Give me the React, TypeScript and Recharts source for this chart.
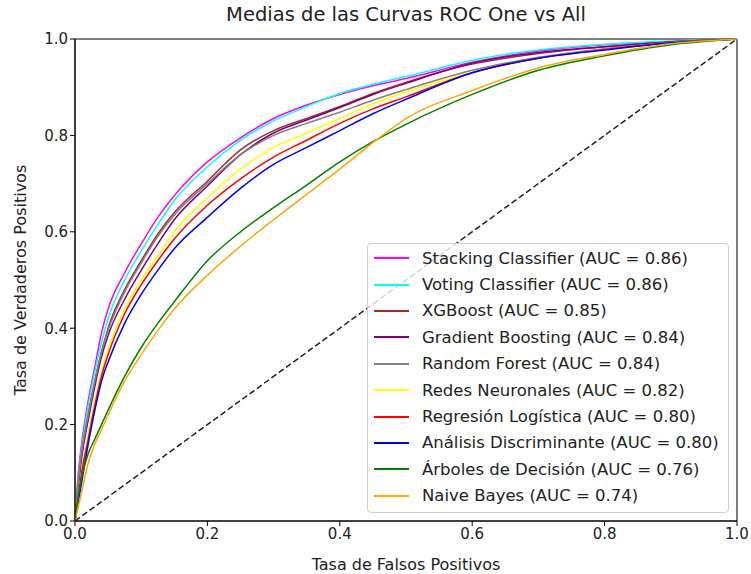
import React from 'react'
import { LineChart, Line, XAxis, YAxis, ReferenceLine, ReferenceArea } from 'recharts'

// false positive rate grid shared by every curve
const fpr = [0, 0.005, 0.01, 0.02, 0.03, 0.04, 0.05, 0.075, 0.1, 0.125, 0.15, 0.2, 0.25, 0.3, 0.35, 0.4, 0.45, 0.5, 0.6, 0.7, 0.8, 0.9, 1]

const stacking = [0, 0.1, 0.16, 0.25, 0.32, 0.39, 0.44, 0.515, 0.575, 0.63, 0.675, 0.745, 0.795, 0.835, 0.863, 0.885, 0.903, 0.918, 0.952, 0.975, 0.988, 0.995, 1]
const voting = [0, 0.09, 0.15, 0.24, 0.31, 0.37, 0.42, 0.5, 0.56, 0.615, 0.665, 0.735, 0.79, 0.83, 0.86, 0.887, 0.906, 0.922, 0.956, 0.977, 0.989, 0.996, 1]
const xgboost = [0, 0.08, 0.14, 0.22, 0.29, 0.35, 0.4, 0.48, 0.54, 0.595, 0.64, 0.705, 0.77, 0.81, 0.835, 0.86, 0.887, 0.91, 0.948, 0.97, 0.984, 0.994, 1]
const gradient = [0, 0.07, 0.13, 0.21, 0.28, 0.34, 0.385, 0.46, 0.52, 0.575, 0.625, 0.695, 0.76, 0.805, 0.832, 0.858, 0.885, 0.908, 0.95, 0.972, 0.984, 0.994, 1]
const forest = [0, 0.08, 0.14, 0.22, 0.29, 0.35, 0.395, 0.475, 0.535, 0.59, 0.635, 0.7, 0.76, 0.8, 0.825, 0.848, 0.873, 0.895, 0.935, 0.962, 0.98, 0.993, 1]
const neural = [0, 0.05, 0.1, 0.18, 0.25, 0.31, 0.355, 0.44, 0.5, 0.55, 0.6, 0.67, 0.73, 0.775, 0.805, 0.835, 0.865, 0.89, 0.93, 0.96, 0.978, 0.992, 1]
const logistic = [0, 0.05, 0.1, 0.17, 0.24, 0.3, 0.345, 0.43, 0.49, 0.54, 0.585, 0.655, 0.71, 0.755, 0.79, 0.825, 0.855, 0.88, 0.93, 0.96, 0.978, 0.992, 1]
const discriminant = [0, 0.04, 0.08, 0.16, 0.23, 0.29, 0.33, 0.41, 0.47, 0.52, 0.565, 0.63, 0.69, 0.74, 0.775, 0.81, 0.845, 0.875, 0.93, 0.96, 0.977, 0.992, 1]
const trees = [0, 0.05, 0.09, 0.14, 0.17, 0.2, 0.23, 0.3, 0.36, 0.41, 0.455, 0.54, 0.6, 0.65, 0.697, 0.745, 0.787, 0.823, 0.885, 0.935, 0.965, 0.988, 1]
const bayes = [0, 0.03, 0.06, 0.12, 0.16, 0.19, 0.22, 0.29, 0.345, 0.395, 0.44, 0.51, 0.57, 0.625, 0.678, 0.73, 0.785, 0.835, 0.893, 0.94, 0.968, 0.99, 1]

const models = [
  { key: 'stacking', name: 'Stacking Classifier (AUC = 0.86)', color: '#ff00ff', values: stacking },
  { key: 'voting', name: 'Voting Classifier (AUC = 0.86)', color: '#00ffff', values: voting },
  { key: 'xgboost', name: 'XGBoost (AUC = 0.85)', color: '#a52a2a', values: xgboost },
  { key: 'gradient', name: 'Gradient Boosting (AUC = 0.84)', color: '#800080', values: gradient },
  { key: 'forest', name: 'Random Forest (AUC = 0.84)', color: '#808080', values: forest },
  { key: 'neural', name: 'Redes Neuronales (AUC = 0.82)', color: '#ffff00', values: neural },
  { key: 'logistic', name: 'Regresión Logística (AUC = 0.80)', color: '#ff0000', values: logistic },
  { key: 'discriminant', name: 'Análisis Discriminante (AUC = 0.80)', color: '#0000ff', values: discriminant },
  { key: 'trees', name: 'Árboles de Decisión (AUC = 0.76)', color: '#008000', values: trees },
  { key: 'bayes', name: 'Naive Bayes (AUC = 0.74)', color: '#ffa500', values: bayes },
]

const ticks = [0, 0.2, 0.4, 0.6, 0.8, 1]

const data = fpr.map((x, i) => {
  const row: Record<string, number> = { fpr: x }
  models.forEach(m => { row[m.key] = m.values[i] })
  return row
})

const font = 'DejaVu Sans, sans-serif'

function LegendBox() {
  return (
    <div style={{
      position: 'absolute', left: 367, top: 243, width: 362, height: 270, boxSizing: 'border-box',
      background: 'rgba(255,255,255,0.8)', border: '1px solid #d0d0d0', borderRadius: 4,
      padding: '1px 0 0 6px', fontSize: 16.5, color: '#222',
    }}>
      {models.map(m => (
        <div key={m.key} style={{ display: 'flex', alignItems: 'center', height: 26.4, whiteSpace: 'nowrap' }}>
          <span style={{ display: 'inline-block', width: 35, height: 0, borderTop: `2px solid ${m.color}`, marginRight: 13 }} />
          <span>{m.name}</span>
        </div>
      ))}
    </div>
  )
}

export default function App() {
  return (
    <div style={{ position: 'absolute', left: 0, top: 0, width: 751, height: 574, background: '#fff', fontFamily: font }}>
      <div style={{ position: 'absolute', left: 75, width: 662, top: 3, textAlign: 'center', fontSize: 19.5, color: '#222' }}>
        Medias de las Curvas ROC One vs All
      </div>
      <LineChart width={751} height={574} data={data} margin={{ top: 39, right: 14, bottom: 0, left: 0 }}>
        <XAxis
          dataKey="fpr" type="number" domain={[0, 1]} ticks={ticks}
          tickFormatter={v => v.toFixed(1)} height={53} tickSize={5}
          tick={{ fill: '#222', fontSize: 15, fontFamily: font }}
          axisLine={{ stroke: '#000' }} tickLine={{ stroke: '#000' }}
          label={{ value: 'Tasa de Falsos Positivos', position: 'insideBottom', offset: 4, fill: '#222', fontSize: 16, fontFamily: font }}
        />
        <YAxis
          type="number" domain={[0, 1]} ticks={ticks} width={75} tickSize={5}
          tickFormatter={v => v.toFixed(1)}
          tick={{ fill: '#222', fontSize: 15, fontFamily: font }}
          axisLine={{ stroke: '#000' }} tickLine={{ stroke: '#000' }}
          label={{ value: 'Tasa de Verdaderos Positivos', angle: -90, position: 'insideLeft', offset: 20, style: { textAnchor: 'middle' }, fill: '#222', fontSize: 16, fontFamily: font }}
        />
        <ReferenceLine segment={[{ x: 0, y: 0 }, { x: 1, y: 1 }]} stroke="#222" strokeWidth={1.5} strokeDasharray="6 3" />
        {models.map(m => (
          <Line key={m.key} dataKey={m.key} name={m.name} stroke={m.color} strokeWidth={1.5} dot={false} type="monotone" isAnimationActive={false} />
        ))}
        <ReferenceArea x1={0} x2={1} y1={0} y2={1} fill="none" stroke="#000" strokeWidth={1} fillOpacity={0} />
      </LineChart>
      <LegendBox />
    </div>
  )
}
